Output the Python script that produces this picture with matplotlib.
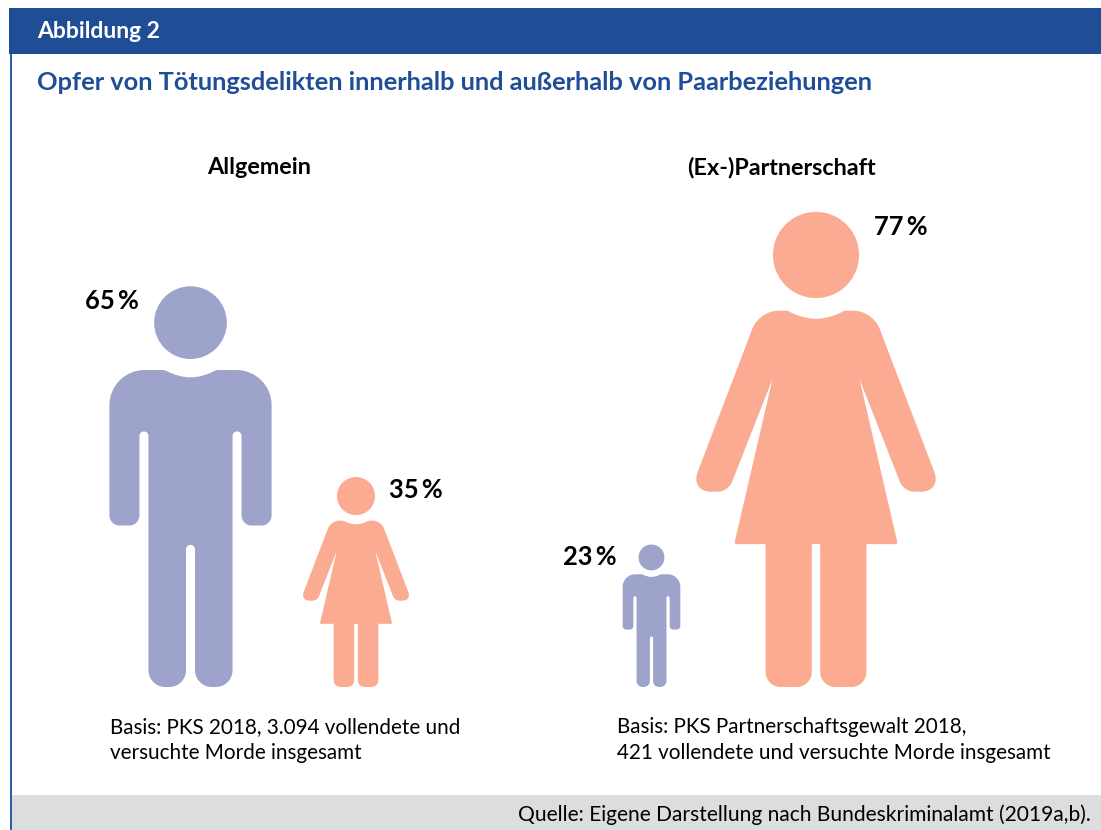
"""Opfer von Toetungsdelikten: pictogram figures scaled by share."""

from __future__ import annotations

import matplotlib

matplotlib.use("Agg")
import matplotlib.pyplot as plt
from matplotlib.patches import Circle, PathPatch, Rectangle
from matplotlib.path import Path

FIGURE_LABEL = "Abbildung 2"
TITLE = "Opfer von Tötungsdelikten innerhalb und außerhalb von Paarbeziehungen"
PANELS = ["Allgemein", "(Ex-)Partnerschaft"]
SOURCE = "Quelle: Eigene Darstellung nach Bundeskriminalamt (2019a,b)."

# one figure per share, the height of a figure encodes its share
SHARES = [65, 35, 23, 77]
KINDS = ["man", "woman", "man", "woman"]
SHARE_LABELS = ["65\u2009%", "35\u2009%", "23\u2009%", "77\u2009%"]
NOTES = [
    "Basis: PKS 2018, 3.094 vollendete und\nversuchte Morde insgesamt",
    "Basis: PKS Partnerschaftsgewalt 2018,\n421 vollendete und versuchte Morde insgesamt",
]

BLUE = "#1F4E96"
MAN_COLOR = "#9EA3CB"
WOMAN_COLOR = "#FAAB91"
GRAY = "#DCDDDF"

PX_PER_SHARE = [6.17, 6.0, 6.2, 6.17]
BASELINE = 687
CENTERS = [190.5, 356, 651.5, 816]
LABEL_POS = [(85, 301), (389, 490), (563, 557), (874, 227)]

# right half outlines: (dx, height, corner size), drawn from the neck down to the crotch
MAN_HEIGHT = 1202
MAN_HEAD = (1092, 109)
MAN_OUTLINE = [
    (0, 928, 0), (38, 928, 36), (76, 950, 8), (243, 950, 105), (243, 484, 30),
    (153, 484, 30), (153, 766, 13.5), (126, 766, 13.5), (126, 0, 50),
    (13.5, 0, 50), (13.5, 426, 13.5), (0, 426, 0),
]
WOMAN_HEIGHT = 1423
WOMAN_HEAD = (1294, 129)
WOMAN_OUTLINE = [
    (0, 1103, 0), (44, 1103, 40), (84, 1127, 6), (170, 1127, 56), (377, 585, 62),
    (263, 585, 30), (130, 923, 2), (245, 428, 7), (151, 428, 0), (151, 0, 45),
    (12.5, 0, 45), (12.5, 428, 0), (0, 428, 0),
]
SHAPES = {
    "man": (MAN_OUTLINE, MAN_HEAD, MAN_HEIGHT, MAN_COLOR),
    "woman": (WOMAN_OUTLINE, WOMAN_HEAD, WOMAN_HEIGHT, WOMAN_COLOR),
}

FONT = "Lato"


def add_corner(verts, codes, prev, corner, nxt):
    x, y, r = corner
    if r == 0:
        verts.append((x, y))
        codes.append(Path.LINETO)
        return

    def towards(other, step):
        dx, dy = other[0] - x, other[1] - y
        length = (dx**2 + dy**2) ** 0.5
        return (x + dx / length * step, y + dy / length * step)

    # cubic with the usual circle constant, rounder than a quadratic
    verts.extend(
        [towards(prev, r), towards(prev, r * 0.45), towards(nxt, r * 0.45), towards(nxt, r)]
    )
    codes.extend([Path.LINETO, Path.CURVE4, Path.CURVE4, Path.CURVE4])


def figure_path(outline, size, cx, base):
    """Mirror the half outline and round its corners, size is pixels per outline unit."""
    left = [(-x, y, r) for x, y, r in reversed(outline[1:-1])]
    points = outline + left
    verts, codes = [], []
    for i, point in enumerate(points):
        add_corner(verts, codes, points[i - 1], point, points[(i + 1) % len(points)])
    codes[0] = Path.MOVETO
    verts.append(verts[0])
    codes.append(Path.CLOSEPOLY)
    return Path([(cx + x * size, base - y * size) for x, y in verts], codes)


def draw_person(ax, kind, height, cx):
    outline, head, full_height, color = SHAPES[kind]
    size = height / full_height
    ax.add_patch(PathPatch(figure_path(outline, size, cx, BASELINE), fc=color, lw=0))
    ax.add_patch(Circle((cx, BASELINE - head[0] * size), head[1] * size, fc=color, lw=0))


def main() -> None:
    plt.rcParams["font.family"] = [FONT, "DejaVu Sans"]
    fig = plt.figure(figsize=(11.01, 8.30), dpi=100)
    ax = fig.add_axes([0, 0, 1, 1])
    ax.set_xlim(0, 1101)
    ax.set_ylim(830, 0)
    ax.axis("off")

    ax.add_patch(Rectangle((9, 8), 1092, 46, fc=BLUE, lw=0))
    ax.add_patch(Rectangle((10, 54), 2, 776, fc="#2F5FA5", lw=0))
    ax.add_patch(Rectangle((12, 795), 1089, 35, fc=GRAY, lw=0))

    ax.text(37, 32, FIGURE_LABEL, color="white", fontsize=16.5, fontweight="bold", va="center")
    ax.text(37, 82, TITLE, color=BLUE, fontsize=18.25, fontweight="bold", va="center")
    ax.text(259, 167, PANELS[0], fontsize=16.8, fontweight="bold", ha="center", va="center")
    ax.text(781, 167, PANELS[1], fontsize=16.8, fontweight="bold", ha="center", va="center")

    for kind, share, scale, cx, label, pos in zip(
        KINDS, SHARES, PX_PER_SHARE, CENTERS, SHARE_LABELS, LABEL_POS
    ):
        draw_person(ax, kind, share * scale, cx)
        ax.text(pos[0], pos[1], label, fontsize=18.4, fontweight="bold", va="center")

    ax.text(110, 740, NOTES[0], fontsize=14.9, va="center", linespacing=1.32)
    ax.text(617, 740, NOTES[1], fontsize=14.9, va="center", linespacing=1.32)
    ax.text(1091, 815, SOURCE, fontsize=15.1, ha="right", va="center")

    fig.savefig("out.png", dpi=100)
    plt.close(fig)


if __name__ == "__main__":
    main()
